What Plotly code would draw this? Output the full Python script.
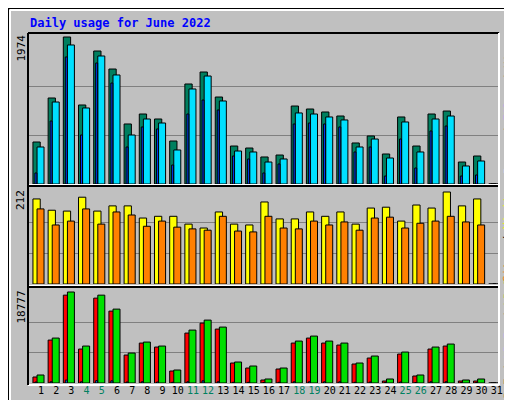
import plotly.graph_objects as go

days = list(range(1, 32))
day_labels = [str(d) for d in days]
weekend = [4, 5, 11, 12, 18, 19, 25, 26]

hits = [564, 1155, 1974, 1061, 1786, 1544, 806, 940, 873, 577, 1343, 1504, 1168, 510, 483,
        363, 389, 1047, 1007, 967, 913, 551, 645, 403, 900, 510, 940, 980, 295, 376, 0]
files = [497, 1101, 1867, 1021, 1719, 1464, 658, 873, 819, 457, 1276, 1450, 1115, 443, 430,
         295, 336, 954, 940, 900, 860, 497, 604, 349, 833, 430, 873, 913, 242, 309, 0]
pages = [148, 846, 1706, 658, 1625, 1356, 497, 766, 739, 255, 940, 1128, 994, 376, 336,
         148, 269, 806, 819, 806, 766, 430, 497, 107, 604, 215, 712, 779, 107, 121, 0]
visits = [196, 170, 168, 200, 168, 180, 180, 152, 156, 156, 138, 129, 166, 138, 136,
          189, 150, 150, 166, 156, 166, 138, 175, 177, 145, 182, 175, 212, 180, 196, 0]
sites = [173, 136, 145, 173, 138, 166, 159, 133, 145, 131, 127, 124, 156, 122, 120,
         156, 129, 127, 145, 136, 143, 124, 152, 154, 129, 140, 145, 156, 143, 136, 0]
kb_out = [1648, 9270, 18777, 7622, 18128, 15244, 6180, 8446, 7622, 2678, 10918, 12978, 11536, 4326, 3502,
          824, 3090, 8652, 9682, 8652, 8240, 4120, 5562, 824, 6386, 1648, 7416, 8034, 618, 824, 0]
kb_f = [1236, 8858, 18128, 7004, 17510, 14832, 5768, 8240, 7416, 2472, 10300, 12360, 11124, 4120, 3090,
        618, 2884, 8240, 9270, 8240, 7828, 3914, 5150, 412, 5974, 1442, 7004, 7622, 412, 412, 0]
kb_in = [200, 250, 600, 250, 500, 450, 200, 250, 200, 150, 250, 450, 250, 150, 150,
         100, 150, 250, 250, 250, 250, 150, 200, 100, 200, 100, 250, 250, 100, 100, 0]

MONO = "DejaVu Sans Mono"
BG = "#c0c0c0"

fig = go.Figure()


def add_bar(y, color, offset, width, axis):
    fig.add_trace(go.Bar(x=days, y=y, marker_color=color, offset=offset, width=width,
                         marker_line=dict(color="black", width=1),
                         xaxis="x" + axis, yaxis="y" + axis))


# top: hits / files / pages
add_bar(hits, "#007f5f", -0.53, 0.48, "")
add_bar(files, "#00e0ff", -0.26, 0.46, "")
add_bar(pages, "#0040ff", -0.40, 0.13, "")
# middle: visits / sites
add_bar(visits, "#ffff00", -0.53, 0.48, "2")
add_bar(sites, "#ff8000", -0.26, 0.46, "2")
# bottom: kb f / kb out / kb in
add_bar(kb_f, "#ff0000", -0.53, 0.48, "3")
add_bar(kb_out, "#00e000", -0.26, 0.46, "3")
add_bar(kb_in, "#0080ff", -0.40, 0.13, "3")

xr = [0.145, 31.145]
xdom = [20 / 512, 491 / 512]
ticktext = [("<span style='color:#008060'>%s</span>" % l) if int(l) in weekend else l
            for l in day_labels]


def yax(dom, maxv, top_val):
    return dict(domain=dom, range=[0, maxv], showticklabels=False, ticks="",
                tickvals=[top_val / 3, 2 * top_val / 3], gridcolor="#808080",
                gridwidth=1, zeroline=False, fixedrange=True, automargin=False)


def xax(anchor, **kw):
    d = dict(domain=xdom, range=xr, showgrid=False, zeroline=False, anchor=anchor,
             automargin=False, showticklabels=False)
    d.update(kw)
    return d


fig.update_layout(
    width=512, height=400, margin=dict(l=0, r=0, t=0, b=0, autoexpand=False),
    paper_bgcolor=BG, plot_bgcolor=BG, showlegend=False, barmode="overlay",
    font=dict(family=MONO, size=11, color="black"),
    xaxis=xax("y"),
    xaxis2=xax("y2"),
    xaxis3=xax("y3", tickvals=days, ticktext=ticktext, showticklabels=True, ticks="",
               tickangle=0, tickfont=dict(size=10, family=MONO)),
    yaxis=yax([1 - 176 / 400, 1 - 25 / 400], 1974 * 151 / 147, 1974),
    yaxis2=yax([1 - 276 / 400, 1 - 180 / 400], 212 * 96 / 92, 212),
    yaxis3=yax([1 - 375 / 400, 1 - 279 / 400], 18777 * 96 / 91, 18777),
)

shapes = [
    # outer bevel
    dict(type="rect", xref="paper", yref="paper", x0=0, x1=1, y0=0, y1=1, line=dict(color="black", width=2)),
    dict(type="line", xref="paper", yref="paper", x0=2 / 512, x1=2 / 512, y0=4 / 400, y1=1 - 2 / 400,
         line=dict(color="white", width=2)),
    dict(type="line", xref="paper", yref="paper", x0=2 / 512, x1=1 - 4 / 512, y0=1 - 2 / 400, y1=1 - 2 / 400,
         line=dict(color="white", width=2)),
    dict(type="line", xref="paper", yref="paper", x0=1 - 4 / 512, x1=1 - 4 / 512, y0=4 / 400, y1=1 - 2 / 400,
         line=dict(color="#808080", width=4)),
    dict(type="line", xref="paper", yref="paper", x0=2 / 512, x1=1 - 4 / 512, y0=4 / 400, y1=4 / 400,
         line=dict(color="#808080", width=4)),
]
# panel frames
for top, bot in [(25, 177), (178, 278), (279, 377)]:
    shapes.append(dict(type="line", xref="paper", yref="paper", x0=xdom[0], x1=xdom[1],
                       y0=1 - top / 400, y1=1 - top / 400, line=dict(color="black", width=2)))
    shapes.append(dict(type="line", xref="paper", yref="paper", x0=xdom[0], x1=xdom[1],
                       y0=1 - bot / 400, y1=1 - bot / 400, line=dict(color="white", width=2)))
shapes.append(dict(type="line", xref="paper", yref="paper", x0=xdom[0], x1=xdom[0],
                   y0=1 - 377 / 400, y1=1 - 25 / 400, line=dict(color="black", width=2)))
shapes.append(dict(type="line", xref="paper", yref="paper", x0=xdom[1], x1=xdom[1],
                   y0=1 - 377 / 400, y1=1 - 25 / 400, line=dict(color="white", width=2)))
fig.update_layout(shapes=shapes)

ann = [
    dict(text="<b>Daily usage for June 2022</b>", x=20 / 512, y=1 - 15 / 400, xanchor="left",
         yanchor="middle", font=dict(color="#0000ff", size=12, family=MONO)),
    dict(text="1974", x=13 / 512, y=1 - 25 / 400, xanchor="center", yanchor="top", textangle=-90),
    dict(text="212", x=13 / 512, y=1 - 180 / 400, xanchor="center", yanchor="top", textangle=-90),
    dict(text="18777", x=13 / 512, y=1 - 281 / 400, xanchor="center", yanchor="top", textangle=-90),
    dict(text="<span style='color:#00e0ff'>Pages</span> / <span style='color:#0040ff'>Files</span>"
              " / <span style='color:#007f5f'>Hits</span>",
         x=500 / 512, y=1 - 100 / 400, xanchor="center", yanchor="middle", textangle=-90),
    dict(text="<span style='color:#ff8000'>Sites</span> / <span style='color:#ffff00'>Visits</span>",
         x=500 / 512, y=1 - 228 / 400, xanchor="center", yanchor="middle", textangle=-90),
    dict(text="<span style='color:#ff0000'>kB F</span> / <span style='color:#0080ff'>kB In</span>"
              " / <span style='color:#00e000'>kB Out</span>",
         x=500 / 512, y=1 - 328 / 400, xanchor="center", yanchor="middle", textangle=-90),
]
for a in ann:
    a.setdefault("font", dict(size=11, family=MONO))
    a.update(xref="paper", yref="paper", showarrow=False)
fig.update_layout(annotations=ann)

fig.write_html("out.html")
